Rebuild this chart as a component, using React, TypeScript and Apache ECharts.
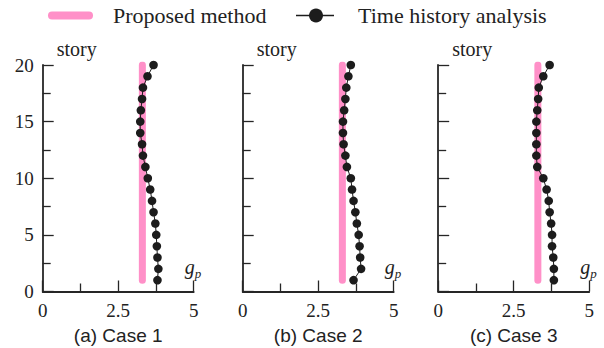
import React, { useEffect, useRef } from "react";
import * as echarts from "echarts";

const stories = [1, 2, 3, 4, 5, 6, 7, 8, 9, 10, 11, 12, 13, 14, 15, 16, 17, 18, 19, 20];
const case1 = [3.8, 3.83, 3.8, 3.78, 3.76, 3.73, 3.67, 3.62, 3.56, 3.48, 3.4, 3.32, 3.29, 3.23, 3.23, 3.25, 3.29, 3.32, 3.47, 3.67];
const case2 = [3.67, 3.92, 3.89, 3.87, 3.84, 3.78, 3.73, 3.67, 3.62, 3.58, 3.45, 3.4, 3.34, 3.32, 3.32, 3.36, 3.4, 3.43, 3.5, 3.58];
const case3 = [3.83, 3.83, 3.81, 3.77, 3.77, 3.74, 3.69, 3.66, 3.59, 3.48, 3.28, 3.25, 3.25, 3.25, 3.25, 3.28, 3.31, 3.33, 3.48, 3.69];
const proposed = [3.3, 3.3, 3.3];
const proposedRange = [1, 20];
const caseTitles = ["(a) Case 1", "(b) Case 2", "(c) Case 3"];
const legendNames = ["Proposed method", "Time history analysis"];

const SERIF = "'Liberation Serif', 'Times New Roman', serif";
const SANS = "'Liberation Sans', Arial, sans-serif";
const AX = "#262626";

export default function App() {
  const ref = useRef<HTMLDivElement>(null);
  useEffect(() => {
    if (!ref.current) return;
    const chart = echarts.init(ref.current, null, { renderer: "svg" });
    const lefts = [42.7, 242.7, 438.2];
    const W = 151;
    const top = 65;
    const H = 226.5;
    const cases = [case1, case2, case3];

    const grid = lefts.map((l) => ({ left: l, top, width: W, height: H }));
    const xAxis = lefts.map((_, i) => ({
      type: "value",
      gridIndex: i,
      min: 0,
      max: 5,
      interval: 2.5,
      axisLine: { show: true, lineStyle: { color: AX, width: 1.8 } },
      axisTick: { show: true, inside: true, length: 11, lineStyle: { color: AX, width: 1.3 } },
      minorTick: { show: true, splitNumber: 2, length: 8, lineStyle: { color: AX, width: 1.3 } },
      splitLine: { show: false },
      axisLabel: {
        show: true,
        margin: 9,
        fontFamily: SERIF,
        fontSize: 19,
        color: "#222",
        formatter: (v: number) => String(v),
      },
    }));
    const yAxis = lefts.map((_, i) => ({
      type: "value",
      gridIndex: i,
      min: 0,
      max: 20,
      interval: 5,
      axisLine: { show: true, lineStyle: { color: AX, width: 1.8 } },
      axisTick: { show: true, inside: true, length: 11, lineStyle: { color: AX, width: 1.3 } },
      minorTick: { show: true, splitNumber: 2, length: 8, lineStyle: { color: AX, width: 1.3 } },
      splitLine: { show: false },
      axisLabel: {
        show: i === 0,
        margin: 9,
        fontFamily: SERIF,
        fontSize: 19,
        color: "#222",
      },
    }));

    const series: any[] = [];
    cases.forEach((c, i) => {
      series.push({
        type: "line",
        name: legendNames[0],
        xAxisIndex: i,
        yAxisIndex: i,
        data: proposedRange.map((s) => [proposed[i], s]),
        symbol: "none",
        lineStyle: { color: "#ff90c8", width: 7, cap: "round" },
        z: 2,
      });
      series.push({
        type: "line",
        name: legendNames[1],
        xAxisIndex: i,
        yAxisIndex: i,
        data: stories.map((s, k) => [c[k], s]),
        symbol: "circle",
        symbolSize: 8.6,
        itemStyle: { color: "#1c1c1c" },
        lineStyle: { color: "#1c1c1c", width: 1 },
        z: 3,
      });
    });

    const graphic: any[] = [];
    lefts.forEach((l, i) => {
      graphic.push({
        type: "text",
        x: l + 14,
        y: 49,
        style: { text: "story", font: `20px ${SERIF}`, fill: "#222", verticalAlign: "middle" },
      });
      graphic.push({
        type: "text",
        x: l + 142,
        y: 267,
        style: { text: "g", font: `italic 20px ${SERIF}`, fill: "#222", verticalAlign: "middle" },
      });
      graphic.push({
        type: "text",
        x: l + 152,
        y: 273,
        style: { text: "p", font: `italic 13px ${SERIF}`, fill: "#222", verticalAlign: "middle" },
      });
      graphic.push({
        type: "text",
        x: l + W / 2,
        y: 335,
        style: { text: caseTitles[i], font: `19px ${SANS}`, fill: "#222", align: "center", verticalAlign: "middle" },
      });
    });
    // legend
    graphic.push({
      type: "rect",
      shape: { x: 48, y: 11.5, width: 45, height: 8, r: 4 },
      style: { fill: "#ff90c8" },
    });
    graphic.push({
      type: "text",
      x: 113,
      y: 15.5,
      style: { text: legendNames[0], font: `22px ${SERIF}`, fill: "#222", verticalAlign: "middle" },
    });
    graphic.push({
      type: "line",
      shape: { x1: 296, y1: 15.5, x2: 334, y2: 15.5 },
      style: { stroke: "#1c1c1c", lineWidth: 1.5 },
    });
    graphic.push({
      type: "circle",
      shape: { cx: 316, cy: 15.5, r: 7 },
      style: { fill: "#1c1c1c" },
    });
    graphic.push({
      type: "text",
      x: 358,
      y: 15.5,
      style: { text: legendNames[1], font: `22px ${SERIF}`, fill: "#222", verticalAlign: "middle" },
    });

    chart.setOption({
      animation: false,
      backgroundColor: "#ffffff",
      grid,
      xAxis,
      yAxis,
      series,
      graphic,
    });
    return () => chart.dispose();
  }, []);
  return (
    <div
      ref={ref}
      style={{ position: "fixed", left: 0, top: 0, width: 604, height: 348 }}
    />
  );
}
